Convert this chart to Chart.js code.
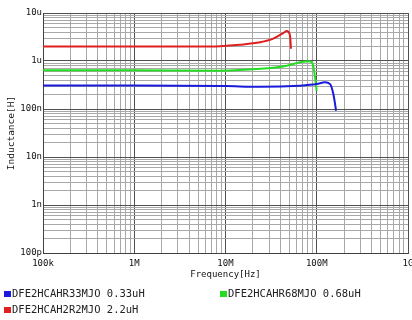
<!DOCTYPE html>
<html>
<head>
<meta charset="utf-8">
<script src="https://cdn.jsdelivr.net/npm/chart.js@4"></script>
<style>
html,body{margin:0;padding:0;background:#fff;}
#wrap{width:412px;height:320px;}
</style>
</head>
<body>
<div id="wrap"><canvas id="c" width="412" height="320"></canvas></div>
<script>
// ---- data ----
const seriesLabels = ['DFE2HCAHR33MJO 0.33uH', 'DFE2HCAHR68MJO 0.68uH', 'DFE2HCAH2R2MJO 2.2uH'];
const seriesColors = ['#1a1adc', '#22dd22', '#e02020'];

const freqR33 = [1e5, 1e6, 1e7, 2.4e7, 6.5e7, 1.0e8, 1.23e8, 1.4e8, 1.52e8, 1.63e8];
const indR33  = [0.31e-6, 0.31e-6, 0.30e-6, 0.29e-6, 0.306e-6, 0.33e-6, 0.36e-6, 0.33e-6, 0.205e-6, 0.092e-6];

const freqR68 = [1e5, 1e6, 8.7e6, 2.4e7, 4.7e7, 6.55e7, 8.28e7, 9.03e7, 9.57e7, 9.98e7];
const indR68  = [0.64e-6, 0.64e-6, 0.63e-6, 0.686e-6, 0.80e-6, 0.94e-6, 0.99e-6, 0.87e-6, 0.46e-6, 0.24e-6];

const freq2R2 = [1e5, 1e6, 5e6, 8.7e6, 1.44e7, 2.39e7, 3.34e7, 4.3e7, 4.69e7, 5.09e7, 5.22e7];
const ind2R2  = [2.01e-6, 2.01e-6, 2.01e-6, 2.04e-6, 2.18e-6, 2.45e-6, 2.92e-6, 3.83e-6, 4.21e-6, 3.42e-6, 1.80e-6];

const xTickValues = [1e5, 1e6, 1e7, 1e8, 1e9];
const xTickLabels = ['100k', '1M', '10M', '100M', '1G'];
const yTickValues = [1e-10, 1e-9, 1e-8, 1e-7, 1e-6, 1e-5];
const yTickLabels = ['100p', '1n', '10n', '100n', '1u', '10u'];

const xTitle = 'Frequency[Hz]';
const yTitle = 'Inductance[H]';

// ---- helpers ----
function toPoints(xs, ys){ return xs.map((x,i)=>({x:x, y:ys[i]})); }
function logTicks(min, max){
  const out = [];
  const e0 = Math.round(Math.log10(min)), e1 = Math.round(Math.log10(max));
  for (let e = e0; e < e1; e++) {
    for (let m = 1; m <= 9; m++) out.push({value: Number((m*Math.pow(10,e)).toPrecision(12))});
  }
  out.push({value: max});
  return out;
}
function isDecade(v){ const l = Math.log10(v); return Math.abs(l - Math.round(l)) < 1e-6; }
function lookup(v, vals, labels){
  for (let i=0;i<vals.length;i++){ if (Math.abs(Math.log10(v)-Math.log10(vals[i]))<1e-6) return labels[i]; }
  return '';
}

const MONO = '"DejaVu Sans Mono", "Liberation Mono", monospace';

const legendPlugin = {
  id: 'customLegend',
  afterDraw(chart, args, opts){
    const ctx = chart.ctx;
    ctx.save();
    ctx.font = opts.font;
    ctx.textBaseline = 'middle';
    ctx.textAlign = 'left';
    chart.data.datasets.forEach((ds, i) => {
      const p = opts.slots[i];
      ctx.fillStyle = ds.borderColor;
      ctx.fillRect(p.x, p.y - 3, 7, 6);
      ctx.fillStyle = '#222';
      ctx.fillText(ds.label, p.x + 8, p.y + 0.5);
    });
    ctx.restore();
  }
};

const datasets = [
  {label: seriesLabels[0], data: toPoints(freqR33, indR33), borderColor: seriesColors[0]},
  {label: seriesLabels[1], data: toPoints(freqR68, indR68), borderColor: seriesColors[1]},
  {label: seriesLabels[2], data: toPoints(freq2R2, ind2R2), borderColor: seriesColors[2]},
].map(d => Object.assign(d, {
  showLine: true, pointRadius: 0, borderWidth: 2, fill: false,
  cubicInterpolationMode: 'monotone', backgroundColor: d.borderColor
}));

new Chart(document.getElementById('c'), {
  type: 'scatter',
  data: { datasets },
  plugins: [legendPlugin],
  options: {
    responsive: false,
    animation: false,
    devicePixelRatio: 1,
    layout: { padding: { top: 13, right: 4, left: 0, bottom: 40 } },
    plugins: {
      legend: { display: false },
      tooltip: { enabled: false },
      customLegend: {
        font: '10.5px ' + MONO,
        slots: [ {x: 4, y: 294}, {x: 220, y: 294}, {x: 4, y: 310} ]
      }
    },
    scales: {
      x: {
        type: 'logarithmic',
        min: 1e5, max: 1e9,
        afterBuildTicks: s => { s.ticks = logTicks(1e5, 1e9); },
        afterFit: s => { s.height = 27; s.paddingLeft = 0; s.paddingRight = 0; },
        ticks: {
          autoSkip: false, maxRotation: 0, minRotation: 0, padding: 5,
          color: '#111', font: { family: MONO, size: 9 },
          callback: v => lookup(v, xTickValues, xTickLabels)
        },
        grid: {
          drawTicks: false,
          color: c => (c.tick && isDecade(c.tick.value)) ? '#505050' : '#a8a8a8',
          lineWidth: 1
        },
        border: { color: '#404040', width: 1 },
        title: { display: true, text: xTitle, color: '#111', font: { family: MONO, size: 9 }, padding: { top: 0, bottom: 0 } }
      },
      y: {
        type: 'logarithmic',
        min: 1e-10, max: 1e-5,
        afterBuildTicks: s => { s.ticks = logTicks(1e-10, 1e-5); },
        afterFit: s => { s.width = 43; s.paddingTop = 0; s.paddingBottom = 0; },
        ticks: {
          autoSkip: false, padding: 1,
          color: '#111', font: { family: MONO, size: 9 },
          callback: v => lookup(v, yTickValues, yTickLabels)
        },
        grid: {
          drawTicks: false,
          color: c => (c.tick && isDecade(c.tick.value)) ? '#505050' : '#a8a8a8',
          lineWidth: 1
        },
        border: { color: '#404040', width: 1 },
        title: { display: true, text: yTitle, color: '#111', font: { family: MONO, size: 9.5 }, padding: { top: 6, bottom: 0 } }
      }
    }
  }
});
</script>
</body>
</html>
